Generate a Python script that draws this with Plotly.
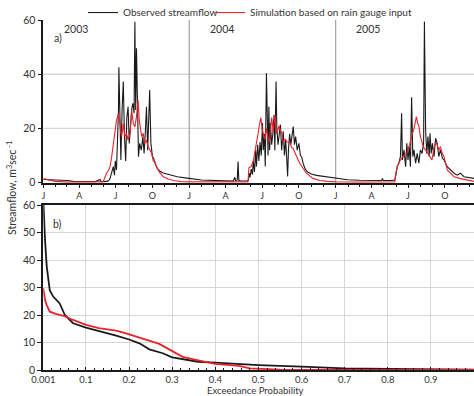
import pandas as pd
import plotly.graph_objects as go

# ---------------- data: panel a) daily streamflow (day of year, m3/s) ----------------
years = [2003, 2004, 2005]
quarter_labels = ["J", "A", "J", "O"]

obs_days_2003 = [0, 20, 40, 60, 75, 100, 130, 142, 144, 160, 165, 167, 171, 175, 178, 180, 183, 186, 188, 189,
                 191, 194, 197, 200, 203, 206, 209, 212, 215, 218, 221, 224, 227, 229, 231, 233, 236, 238, 241,
                 245, 249, 252, 255, 258, 261, 264, 266, 269, 273, 276, 279, 285, 292, 300, 317, 335, 364]
obs_flow_2003 = [1.2, 1.1, 1.0, 0.8, 0.5, 0.4, 0.4, 1.2, 0.4, 0.5, 1.0, 1.6, 3.5, 5.9, 2.8, 8.1, 4.7, 14.5, 26.8, 42.6,
                 24.3, 8.4, 26.8, 37.3, 17, 8, 24.3, 28, 14.5, 23, 27, 29.3, 25.6, 59.4, 26.8, 49.6, 19.4, 9.6, 14.5,
                 12, 17, 10.8, 18.2, 28, 12, 26.8, 34.2, 14.5, 9.6, 9, 7.2, 5.3, 4.2, 3.6, 2.8, 2.2, 1.6]
sim_days_2003 = [0, 15, 30, 60, 140, 148, 150, 154, 158, 163, 167, 171, 175, 179, 183, 188, 192, 196, 200, 204,
                 208, 212, 217, 221, 225, 229, 233, 237, 240, 243, 246, 250, 254, 258, 262, 267, 271, 275, 279,
                 283, 290, 300, 315, 330, 345, 364]
sim_flow_2003 = [1.5, 1.0, 0.5, 0.2, 0.2, 0.3, 0.5, 2, 3.5, 4.5, 5.9, 9.6, 14.5, 19.4, 23, 25.6, 21.8, 17, 21.8, 17,
                 18.2, 15.7, 18.2, 26.8, 21.8, 20.6, 24.3, 30.5, 23, 19.4, 17, 18.2, 14.5, 15.7, 13.3, 12, 10.8, 8,
                 7.8, 5.9, 4, 2.2, 1.2, 0.7, 0.4, 0.3]

obs_days_2004 = [0, 30, 60, 90, 110, 114, 116, 120, 122, 124, 130, 145, 148, 150, 152, 155, 158, 160, 163, 166,
                 168, 171, 174, 177, 180, 183, 185, 188, 190, 193, 195, 197, 199, 201, 203, 206, 209, 212, 214,
                 217, 219, 222, 225, 228, 231, 235, 238, 241, 244, 246, 248, 251, 254, 257, 260, 263, 266, 270,
                 274, 278, 281, 285, 290, 295, 305, 318, 340, 364]
obs_flow_2004 = [1.6, 1.0, 0.8, 0.7, 0.6, 2, 0.7, 1, 7.8, 0.8, 0.6, 0.6, 1, 3.5, 2, 5, 3, 8, 4, 12,
                 6, 14, 8, 15, 10, 22, 12, 18, 6, 40.4, 15, 10, 28, 12, 22, 14, 18, 25, 12,
                 37.3, 20, 14, 18, 21.4, 12, 19, 10, 16, 8, 2.3, 12, 18, 14, 18, 20.7, 14, 17, 12,
                 14.5, 10, 9.6, 7, 5, 4, 3.2, 2.7, 2.2, 1.6]
sim_days_2004 = [0, 60, 140, 147, 149, 155, 160, 164, 168, 172, 175, 179, 183, 186, 189, 193, 196, 200, 203, 206,
                 210, 214, 218, 222, 225, 228, 231, 235, 240, 244, 248, 252, 256, 260, 264, 268, 272, 277, 281,
                 285, 293, 310, 327, 345, 364]
sim_flow_2004 = [0.3, 0.2, 0.2, 0.3, 5.5, 6, 8, 11, 14.5, 18, 21, 24, 19, 17, 16, 20, 17, 15, 19, 24,
                 19, 25, 18, 20, 21, 19, 18.5, 15, 16, 15, 15, 14.5, 13, 12.5, 11, 9.6, 8.5, 7, 6,
                 5.3, 3.5, 1.5, 0.8, 0.5, 0.3]

obs_days_2005 = [0, 30, 60, 100, 115, 117, 119, 140, 148, 151, 154, 158, 162, 165, 167, 171, 175, 178, 181, 184,
                 187, 190, 193, 196, 200, 204, 208, 212, 216, 220, 222, 225, 228, 231, 234, 236, 239, 242, 246,
                 250, 254, 258, 262, 267, 271, 279, 287, 296, 304, 312, 321, 346]
obs_flow_2005 = [1.6, 1.1, 0.9, 0.8, 0.8, 1.6, 0.8, 0.8, 1, 3, 5.9, 7.2, 9.6, 25.6, 8.4, 12.1, 5.9, 14.5, 8.4, 13.3,
                 5.9, 31.5, 9.6, 12.1, 7.2, 10.8, 7.2, 12.1, 10.8, 14.5, 59.4, 19.4, 10.8, 17, 9.6, 18.2, 10.8, 14.5, 9.6,
                 16.4, 14.5, 9.6, 12.1, 9, 8.4, 5.9, 4.7, 3.5, 2.8, 3.5, 2.2, 1.6]
sim_days_2005 = [0, 60, 140, 148, 150, 154, 162, 170, 179, 184, 190, 196, 202, 205, 208, 212, 216, 220, 225, 229,
                 235, 241, 245, 250, 254, 258, 262, 266, 271, 275, 279, 287, 296, 312, 329, 346]
sim_flow_2005 = [0.3, 0.2, 0.2, 0.3, 3, 6, 8.4, 10, 11, 14, 17, 20, 24.4, 22, 21, 17, 14.5, 13, 12, 11,
                 9.5, 8.4, 12, 15, 14, 12, 13.3, 11, 9.6, 7, 4.7, 3.5, 2.2, 1.5, 1, 0.5]

# ---------------- data: panel b) flow duration curves ----------------
prob_obs = [0.001, 0.003, 0.005, 0.009, 0.016, 0.024, 0.039, 0.051, 0.07, 0.1, 0.14, 0.17, 0.2, 0.224, 0.247,
            0.278, 0.3, 0.332, 0.36, 0.4, 0.455, 0.5, 0.6, 0.7, 0.8, 0.9, 1.0]
flow_obs = [62, 52, 47.3, 37.6, 29, 26.7, 24.2, 20, 17, 15.4, 13.9, 12.5, 11.1, 9.7, 7.5,
            6.1, 4.6, 3.6, 3.0, 2.7, 2.2, 1.8, 1.2, 0.6, 0.4, 0.25, 0.1]
prob_sim = [0.001, 0.003, 0.005, 0.009, 0.016, 0.03, 0.05, 0.07, 0.1, 0.13, 0.17, 0.193, 0.209, 0.24, 0.27,
            0.293, 0.324, 0.363, 0.4, 0.455, 0.48, 0.55, 0.7, 0.85, 1.0]
flow_sim = [29.7, 26.5, 25.5, 23.6, 21.2, 20.4, 19.6, 18.2, 16.4, 15.2, 14.3, 13.3, 12.5, 10.9, 9.5,
            7.5, 4.8, 3.4, 2.2, 1.5, 0.6, 0.15, 0.08, 0.05, 0.03]
prob_ticks = [0.001, 0.1, 0.2, 0.3, 0.4, 0.5, 0.6, 0.7, 0.8, 0.9, 1.0]
prob_tick_text = ["0.001", "0.1", "0.2", "0.3", "0.4", "0.5", "0.6", "0.7", "0.8", "0.9", "1"]

# ---------------- assemble ----------------
obs_days = {2003: obs_days_2003, 2004: obs_days_2004, 2005: obs_days_2005}
obs_flow = {2003: obs_flow_2003, 2004: obs_flow_2004, 2005: obs_flow_2005}
sim_days = {2003: sim_days_2003, 2004: sim_days_2004, 2005: sim_days_2005}
sim_flow = {2003: sim_flow_2003, 2004: sim_flow_2004, 2005: sim_flow_2005}


def to_dates(year, days):
    return list(pd.Timestamp(f"{year}-01-01") + pd.to_timedelta(days, unit="D"))


obs_x, obs_y, sim_x, sim_y = [], [], [], []
for yr in years:
    obs_x += to_dates(yr, obs_days[yr]); obs_y += obs_flow[yr]
    sim_x += to_dates(yr, sim_days[yr]); sim_y += sim_flow[yr]

BLACK = "#1a1a1a"
RED = "#e8232a"
GRID = "#d6d6d6"
TXT = "#333333"
FONT = "Lato"

fig = go.Figure()
fig.add_trace(go.Scatter(x=obs_x, y=obs_y, mode="lines", name="Observed streamflow", legend="legend",
                         line=dict(color=BLACK, width=1.1), xaxis="x", yaxis="y"))
fig.add_trace(go.Scatter(x=sim_x, y=sim_y, mode="lines", name="Simulation based on rain gauge input",
                         legend="legend2", line=dict(color=RED, width=1.1), xaxis="x", yaxis="y"))
fig.add_trace(go.Scatter(x=prob_obs, y=flow_obs, mode="lines", showlegend=False,
                         line=dict(color=BLACK, width=1.8), xaxis="x2", yaxis="y2"))
fig.add_trace(go.Scatter(x=prob_sim, y=flow_sim, mode="lines", showlegend=False,
                         line=dict(color=RED, width=1.8), xaxis="x2", yaxis="y2"))

W, H = 474, 396
xl = 43.3 / W
start = pd.Timestamp(f"{years[0]}-01-01")
end = start + pd.Timedelta(days=1077)
qticks = list(pd.date_range(start, end, freq="QS"))
qtext = [quarter_labels[(t.month - 1) // 3] for t in qticks]

shapes = []
for yv in [20, 40]:
    shapes.append(dict(type="line", xref="x domain", yref="y", x0=0, x1=1, y0=yv, y1=yv,
                       line=dict(color=GRID, width=1.3), layer="below"))
for yr in years[1:]:
    shapes.append(dict(type="line", xref="x", yref="y domain", x0=f"{yr}-01-01", x1=f"{yr}-01-01", y0=0, y1=1,
                       line=dict(color="#a8a8a8", width=1.3), layer="below"))


def note(text, x, y, xref="paper", yref="paper", size=10, angle=0):
    return dict(text=text, xref=xref, yref=yref, x=x, y=y, xanchor="center", yanchor="middle",
                showarrow=False, textangle=angle, font=dict(size=size, color=TXT))


annotations = []
for yr in years:
    annotations.append(note(str(yr), pd.Timestamp(f"{yr}-01-01") + pd.Timedelta(days=82), 0.947,
                            xref="x", yref="y domain", size=10.5))
annotations += [
    note("a)", 58 / W, 1 - 38 / H, size=10.5),
    note("b)", 57 / W, 1 - 224 / H, size=10.5),
    note("Streamflow, m<sup>3</sup>sec<sup> -1</sup>", 12 / W, 1 - 188 / H, size=10.5, angle=-90),
    note("Exceedance Probability", 255 / W, 1 - 390 / H, size=9.5),
]

legend_common = dict(orientation="h", xanchor="left", y=1.005, yanchor="top",
                     font=dict(size=10, color=TXT), bgcolor="rgba(0,0,0,0)")

fig.update_layout(
    width=W, height=H, margin=dict(l=0, r=0, t=0, b=0, autoexpand=False),
    paper_bgcolor="white", plot_bgcolor="white",
    font=dict(family=FONT, size=10, color=TXT),
    showlegend=True,
    legend=dict(x=83 / W, **legend_common),
    legend2=dict(x=210 / W, **legend_common),
    xaxis=dict(domain=[xl, 1], anchor="y", type="date", range=[start, end], automargin=False,
               tickvals=qticks, ticktext=qtext, ticks="outside", ticklen=4, tickcolor=BLACK,
               showline=True, linecolor=BLACK, linewidth=1.5, showgrid=False, zeroline=False,
               tickfont=dict(size=9),
               minor=dict(ticks="outside", ticklen=3, dtick="M1", tick0=start, tickcolor=BLACK, showgrid=False)),
    yaxis=dict(domain=[1 - 182.7 / H, 1 - 20 / H], anchor="x", range=[0, 60], tickvals=[0, 20, 40, 60],
               automargin=False,
               ticks="outside", ticklen=4, tickcolor=BLACK, showline=True, linecolor=BLACK, linewidth=1.5,
               showgrid=False, zeroline=False, tickfont=dict(size=10.5)),
    xaxis2=dict(domain=[xl, 1], anchor="y2", range=[0.001, 1.0], tickvals=prob_ticks, ticktext=prob_tick_text,
                automargin=False,
                ticks="inside", ticklen=3, tickcolor=BLACK, showline=True, linecolor=BLACK, linewidth=2,
                mirror=True, showgrid=True, gridcolor=GRID, gridwidth=1.3, zeroline=False,
                tickfont=dict(size=9.5),
                minor=dict(ticks="inside", ticklen=2, dtick=0.02, tickcolor=BLACK, showgrid=False)),
    yaxis2=dict(domain=[1 - 370 / H, 1 - 205 / H], anchor="x2", range=[0, 60], dtick=10, automargin=False,
                ticks="outside", ticklen=4, tickcolor=BLACK, showline=True, linecolor=BLACK, linewidth=2,
                showgrid=True, gridcolor=GRID, gridwidth=1.3, zeroline=False, tickfont=dict(size=10.5)),
    shapes=shapes, annotations=annotations,
)

fig.write_html("out.html")
